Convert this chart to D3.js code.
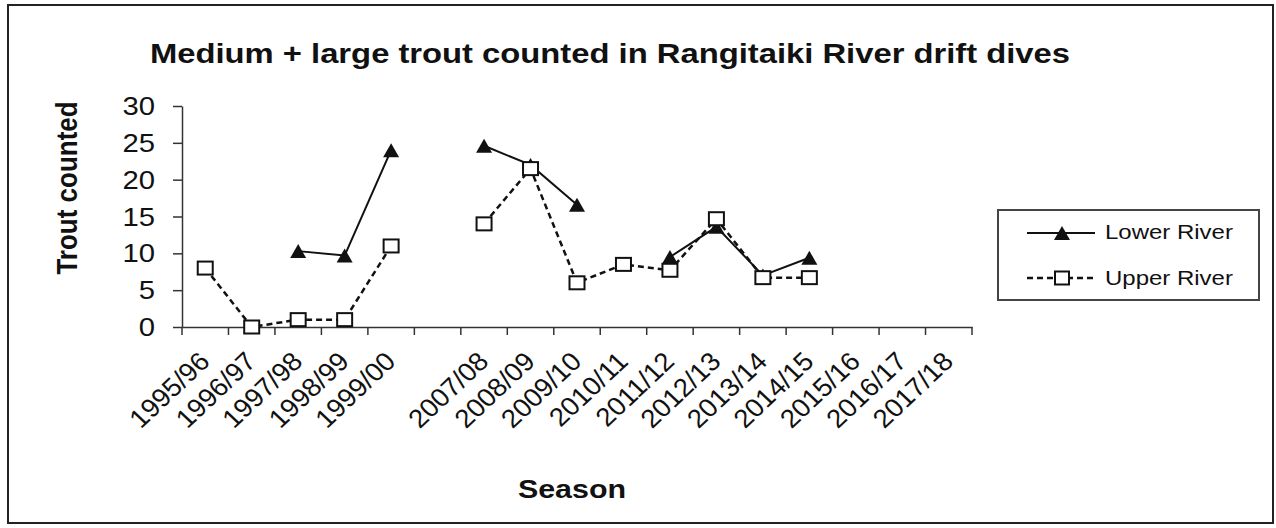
<!DOCTYPE html>
<html><head><meta charset="utf-8">
<script src="https://cdn.jsdelivr.net/npm/d3@7"></script>
<style>html,body{margin:0;padding:0;background:#fff;} svg{display:block;font-family:Arial,"Liberation Sans",sans-serif;}</style>
</head><body><svg id="chart" width="1276" height="528"></svg>
<script>
const seasons = ["1995/96","1996/97","1997/98","1998/99","1999/00","","2007/08","2008/09","2009/10","2010/11","2011/12","2012/13","2013/14","2014/15","2015/16","2016/17","2017/18"];
const lowerRiver = [null,null,10.3,9.7,24,null,24.6,22,16.6,null,9.5,13.6,7,9.4,null,null,null];
const upperRiver = [8,0,1,1,11,null,14,21.5,6,8.5,7.7,14.7,6.7,6.7,null,null,null];
const yTicks = [0,5,10,15,20,25,30];
const titleText = "Medium + large trout counted in Rangitaiki River drift dives";
const yTitle = "Trout counted";
const xTitle = "Season";
const seriesNames = ["Lower River","Upper River"];

const SX = 1.17; // horizontal stretch of the original picture
const svg = d3.select("#chart");
svg.append("rect").attr("width",1276).attr("height",528).attr("fill","#fff");
svg.append("rect").attr("x",8).attr("y",5).attr("width",1265).attr("height",518)
  .attr("fill","none").attr("stroke","#222").attr("stroke-width",2);

const x = d3.scaleBand().domain(seasons).range([182,972]).padding(0);
const y = d3.scaleLinear().domain([0,30]).range([327,106]);

function stext(g, tx, ty, txt, size, weight, anchor, rot, sx){
  const s = sx == null ? SX : sx;
  const t = g.append("text")
    .attr("transform", `translate(${tx},${ty}) scale(${s},1)` + (rot ? ` rotate(${rot})` : ""))
    .attr("font-size", size).attr("font-weight", weight||"normal")
    .attr("text-anchor", anchor||"start").attr("fill","#111").text(txt);
  return t;
}

// title
stext(svg, 610, 63, titleText, 28, "bold", "middle");

// y axis
const yAxis = svg.append("g").attr("transform","translate(182,0)")
  .call(d3.axisLeft(y).tickValues(yTicks).tickSize(9).tickSizeOuter(0).tickFormat(""));
yAxis.selectAll("path,line").attr("stroke","#333").attr("stroke-width",1.5);
yTicks.forEach(v => stext(svg, 155, y(v)+9, String(v), 25, "normal", "end"));
stext(svg, 77, 188, yTitle, 26, "bold", "middle", -90);

// x axis
const xAxis = svg.append("g").attr("transform","translate(0,327)")
  .call(d3.axisBottom(x).tickSize(0).tickSizeOuter(0).tickFormat(""));
xAxis.select("path").attr("stroke","#333").attr("stroke-width",1.5);
const bounds = seasons.map(s => x(s)).concat([x.range()[1]]);
svg.append("g").selectAll("line").data(bounds).join("line")
  .attr("x1",d=>d).attr("x2",d=>d).attr("y1",327).attr("y2",335)
  .attr("stroke","#333").attr("stroke-width",1.5);
seasons.forEach(s => { if (s) stext(svg, x(s)+x.bandwidth()/2+6, 363, s, 26, "normal", "end", -45, 1.06); });
stext(svg, 572, 498, xTitle, 26, "bold", "middle");

// lines
const cx = i => x(seasons[i]) + x.bandwidth()/2;
const line = d3.line().defined(d => d.v != null).x(d => cx(d.i)).y(d => y(d.v));
const upData = upperRiver.map((v,i)=>({v,i}));
const loData = lowerRiver.map((v,i)=>({v,i}));
svg.append("path").datum(upData).attr("d",line).attr("fill","none")
  .attr("stroke","#111").attr("stroke-width",2.5).attr("stroke-dasharray","6,4");
svg.append("path").datum(loData).attr("d",line).attr("fill","none")
  .attr("stroke","#111").attr("stroke-width",2);

const triPath = (px,py) => `M${px},${py-7}L${px+8},${py+7}L${px-8},${py+7}Z`;
svg.append("g").selectAll("path").data(loData.filter(d=>d.v!=null)).join("path")
  .attr("d", d => triPath(cx(d.i), y(d.v))).attr("fill","#111");
svg.append("g").selectAll("rect").data(upData.filter(d=>d.v!=null)).join("rect")
  .attr("x", d => cx(d.i)-7.5).attr("y", d => y(d.v)-6.5).attr("width",15).attr("height",13)
  .attr("fill","#fff").attr("stroke","#111").attr("stroke-width",2);

// legend
const lg = svg.append("g");
lg.append("rect").attr("x",998).attr("y",210).attr("width",261).attr("height",90)
  .attr("fill","#fff").attr("stroke","#444").attr("stroke-width",2);
lg.append("line").attr("x1",1027).attr("x2",1095).attr("y1",233).attr("y2",233)
  .attr("stroke","#111").attr("stroke-width",2);
lg.append("path").attr("d", triPath(1062,233)).attr("fill","#111");
stext(lg, 1105, 239, seriesNames[0], 20.5, "normal", "start");
lg.append("line").attr("x1",1027).attr("x2",1095).attr("y1",278).attr("y2",278)
  .attr("stroke","#111").attr("stroke-width",2.5).attr("stroke-dasharray","6,4");
lg.append("rect").attr("x",1055).attr("y",271.5).attr("width",14).attr("height",13)
  .attr("fill","#fff").attr("stroke","#111").attr("stroke-width",2);
stext(lg, 1105, 285, seriesNames[1], 20.5, "normal", "start");
</script></body></html>
